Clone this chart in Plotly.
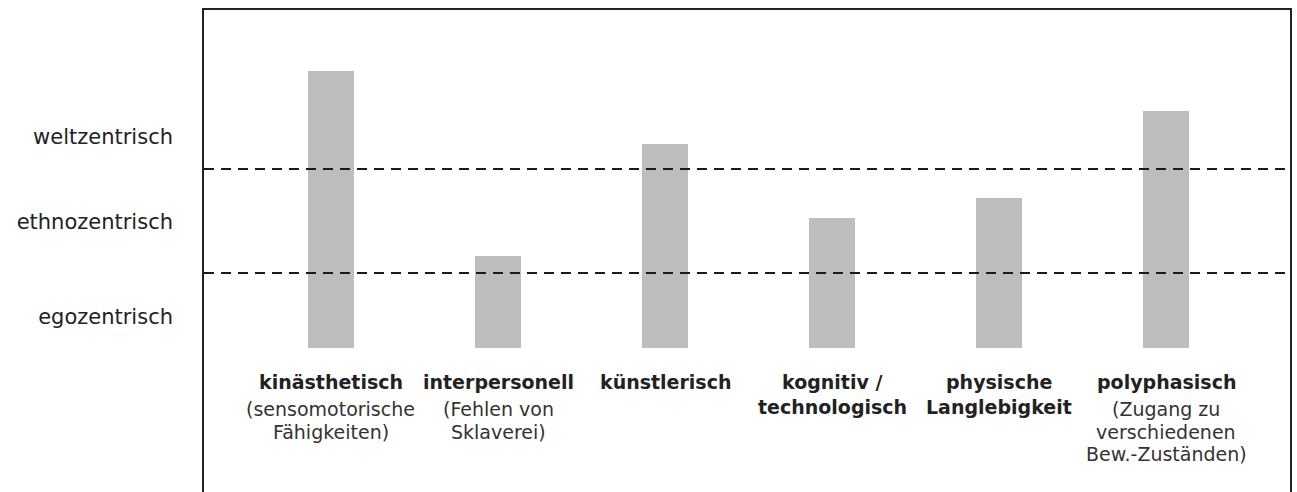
import plotly.graph_objects as go

# ---- data ----
categories = ["kinästhetisch", "interpersonell", "künstlerisch",
              "kognitiv / technologisch", "physische Langlebigkeit", "polyphasisch"]
title_lines = [["kinästhetisch"], ["interpersonell"], ["künstlerisch"],
               ["kognitiv /", "technologisch"], ["physische", "Langlebigkeit"], ["polyphasisch"]]
sub_lines = [["(sensomotorische", "Fähigkeiten)"], ["(Fehlen von", "Sklaverei)"], [], [], [],
             ["(Zugang zu", "verschiedenen", "Bew.-Zuständen)"]]
levels = [277, 92, 204, 130, 150, 237]          # bar heights (arbitrary units)
thresholds = [75, 179]                          # dashed borders between stages
stage_labels = ["egozentrisch", "ethnozentrisch", "weltzentrisch"]
stage_positions = [31, 126, 211]

Y_RANGE = [-144, 338]
X_RANGE = [-0.76, 5.74]

fig = go.Figure()
fig.add_trace(go.Bar(x=categories, y=levels, width=0.275,
                     marker=dict(color="#bdbdbd", line=dict(width=0)),
                     hoverinfo="skip", showlegend=False))
# invisible trace on second y axis to carry stage labels
fig.add_trace(go.Scatter(x=[categories[0]], y=[stage_positions[0]], yaxis="y2",
                         mode="markers", marker=dict(opacity=0), showlegend=False,
                         hoverinfo="skip"))

for t in thresholds:
    fig.add_shape(type="line", xref="paper", x0=0, x1=1, yref="y", y0=t, y1=t,
                  line=dict(color="#1a1a1a", width=2, dash="10px,7px"))

TITLE_Y0, TITLE_STEP = -34, -25
SUB_Y0, SUB_STEP = -61, -22.5
for cat, tl, sl in zip(categories, title_lines, sub_lines):
    for i, line in enumerate(tl):
        fig.add_annotation(x=cat, y=TITLE_Y0 + i * TITLE_STEP, xref="x", yref="y",
                           text="<b>" + line + "</b>", showarrow=False,
                           yanchor="middle", xanchor="center",
                           font=dict(family="DejaVu Sans", size=19, color="#222"))
    for i, line in enumerate(sl):
        fig.add_annotation(x=cat, y=SUB_Y0 + i * SUB_STEP, xref="x", yref="y",
                           text=line, showarrow=False,
                           yanchor="middle", xanchor="center",
                           font=dict(family="DejaVu Sans", size=19, color="#333"))

fig.update_layout(
    width=1297, height=492,
    margin=dict(l=204, r=7, t=10, b=0),
    paper_bgcolor="white", plot_bgcolor="white",
    bargap=0,
    xaxis=dict(range=X_RANGE, showticklabels=False, showgrid=False, zeroline=False,
               side="top", showline=True, linecolor="#222", linewidth=2, ticks=""),
    yaxis=dict(range=Y_RANGE, showgrid=False, zeroline=False, showline=True, mirror=True,
               linecolor="#222", linewidth=2, tickvals=thresholds, ticks="inside",
               ticklen=8, tickcolor="#222", tickwidth=1, showticklabels=False),
    yaxis2=dict(range=Y_RANGE, overlaying="y", side="left", showgrid=False,
                zeroline=False, showline=False, tickvals=stage_positions,
                ticktext=stage_labels, ticks="", ticklabelstandoff=30,
                tickfont=dict(family="DejaVu Sans", size=21, color="#222")),
)

fig.write_html("out.html", config={"displayModeBar": False},
               post_script="document.body.style.margin='0';")
